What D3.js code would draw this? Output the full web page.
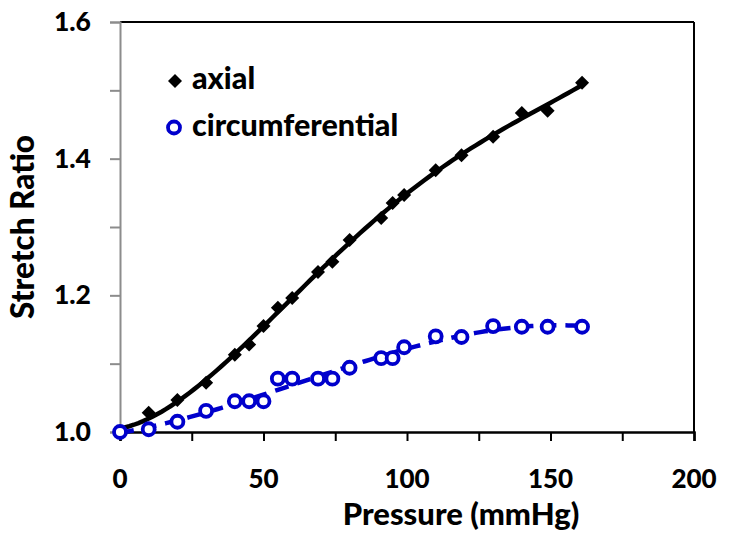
<!DOCTYPE html>
<html><head><meta charset="utf-8">
<script src="https://cdn.jsdelivr.net/npm/d3@7"></script>
<style>body{margin:0;background:#fff}svg{display:block}text{font-family:Lato,"Open Sans",sans-serif;font-weight:900}</style>
</head><body><svg id="c" width="729" height="543"></svg>
<script>
const axialP = [0,10,20,30,40,45,50,55,60,69,74,80,91,95,99,110,119,130,140,149,161];
const axialS = [1.0,1.028,1.047,1.072,1.113,1.128,1.155,1.182,1.196,1.234,1.249,1.281,1.313,1.335,1.347,1.383,1.405,1.432,1.467,1.470,1.511];
const circP = [0,10,20,30,40,45,50,55,60,69,74,80,91,95,99,110,119,130,140,149,161];
const circS = [1.0,1.004,1.015,1.031,1.045,1.045,1.045,1.078,1.078,1.078,1.078,1.094,1.108,1.108,1.124,1.140,1.139,1.155,1.154,1.154,1.154];
const xTicks = [0,25,50,75,100,125,150,175,200];
const xLabels = [0,50,100,150,200];
const yTicks = [1.0,1.1,1.2,1.3,1.4,1.5,1.6];
const yLabels = [1.0,1.2,1.4,1.6];
const seriesNames = ["axial","circumferential"];

const svg = d3.select("#c");
const L=120,R=694,T=22,B=432;
const x = d3.scaleLinear().domain([0,200]).range([L,R]);
const y = d3.scaleLinear().domain([1,1.6]).range([B,T]);
const blue = "#0000cc";

// polynomial least-squares trendline
function polyfit(xs, ys, deg){
  const s = 100;
  const n=deg+1, A=[...Array(n)].map(()=>Array(n+1).fill(0));
  for(let k=0;k<xs.length;k++){
    const xv = xs[k]/s;
    for(let i=0;i<n;i++){
      for(let j=0;j<n;j++) A[i][j]+=Math.pow(xv,i+j);
      A[i][n]+=ys[k]*Math.pow(xv,i);
    }
  }
  for(let i=0;i<n;i++){
    let m=i; for(let r=i+1;r<n;r++) if(Math.abs(A[r][i])>Math.abs(A[m][i])) m=r;
    [A[i],A[m]]=[A[m],A[i]];
    for(let r=0;r<n;r++){ if(r===i) continue; const f=A[r][i]/A[i][i]; for(let c=i;c<=n;c++) A[r][c]-=f*A[i][c]; }
  }
  const c = A.map((row,i)=>row[n]/row[i]);
  return t => c.reduce((acc,v,k)=>acc+v*Math.pow(t/s,k),0);
}
function trend(xs, ys, deg){
  const f = polyfit(xs, ys, deg);
  const x0=d3.min(xs), x1=d3.max(xs);
  return d3.range(0,101).map(i=>{const t=x0+(x1-x0)*i/100; return [t, f(t)];});
}

// frame
svg.append("line").attr("x1",L).attr("x2",R).attr("y1",T).attr("y2",T).attr("stroke","#000").attr("stroke-width",2);
svg.append("line").attr("x1",R).attr("x2",R).attr("y1",T).attr("y2",B).attr("stroke","#000").attr("stroke-width",2);

// x axis
const xa = svg.append("g").attr("transform",`translate(0,${B})`)
  .call(d3.axisBottom(x).tickValues(xTicks).tickSize(9).tickFormat(""));
xa.select(".domain").attr("stroke","#000").attr("stroke-width",2.5);
xa.selectAll(".tick line").attr("stroke","#000").attr("stroke-width",2);
svg.append("g").selectAll("text").data(xLabels).join("text")
  .attr("x",d=>x(d)).attr("y",488).attr("text-anchor","middle").attr("font-size",26).attr("fill","#000").text(d=>d);

// y axis
const ya = svg.append("g").attr("transform",`translate(${L},0)`)
  .call(d3.axisLeft(y).tickValues(yTicks).tickSize(10).tickFormat(""));
ya.select(".domain").attr("stroke","#8c8c8c").attr("stroke-width",2);
ya.selectAll(".tick line").attr("stroke","#8c8c8c").attr("stroke-width",2);
svg.append("g").selectAll("text").data(yLabels).join("text")
  .attr("x",91).attr("y",d=>y(d)+9).attr("text-anchor","end").attr("font-size",26.5).attr("fill","#000").text(d=>d.toFixed(1));

// titles
svg.append("text").attr("x",461).attr("y",525).attr("text-anchor","middle").attr("font-size",31).attr("fill","#000").text("Pressure (mmHg)");
svg.append("text").attr("transform","translate(34,227) rotate(-90)").attr("text-anchor","middle").attr("font-size",31.5).attr("fill","#000").text("Stretch Ratio");

const line = d3.line().x(d=>x(d[0])).y(d=>y(d[1]));

// trendlines
svg.append("path").attr("d",line(trend(axialP,axialS,4))).attr("fill","none").attr("stroke","#000").attr("stroke-width",4.5);
svg.append("path").attr("d",line(trend(circP,circS,3))).attr("fill","none").attr("stroke",blue).attr("stroke-width",4.5).attr("stroke-dasharray","14,9");

// markers
const diamond = d3.symbol().type(d3.symbolDiamond2).size(125);
svg.append("g").selectAll("path").data(axialP.map((p,i)=>[p,axialS[i]])).join("path")
  .attr("d",diamond).attr("transform",d=>`translate(${x(d[0])},${y(d[1])})`).attr("fill","#000");
svg.append("g").selectAll("circle").data(circP.map((p,i)=>[p,circS[i]])).join("circle")
  .attr("cx",d=>x(d[0])).attr("cy",d=>y(d[1])).attr("r",6).attr("fill","#fff").attr("stroke",blue).attr("stroke-width",3.8);

// legend
const lg = svg.append("g");
lg.append("path").attr("d",diamond).attr("transform","translate(175,81)").attr("fill","#000");
lg.append("circle").attr("cx",174).attr("cy",127.5).attr("r",6).attr("fill","#fff").attr("stroke",blue).attr("stroke-width",3.8);
lg.append("text").attr("x",192).attr("y",89).attr("font-size",30.5).attr("fill","#000").text(seriesNames[0]);
lg.append("text").attr("x",192).attr("y",136).attr("font-size",30.5).attr("fill","#000").text(seriesNames[1]);
</script></body></html>
